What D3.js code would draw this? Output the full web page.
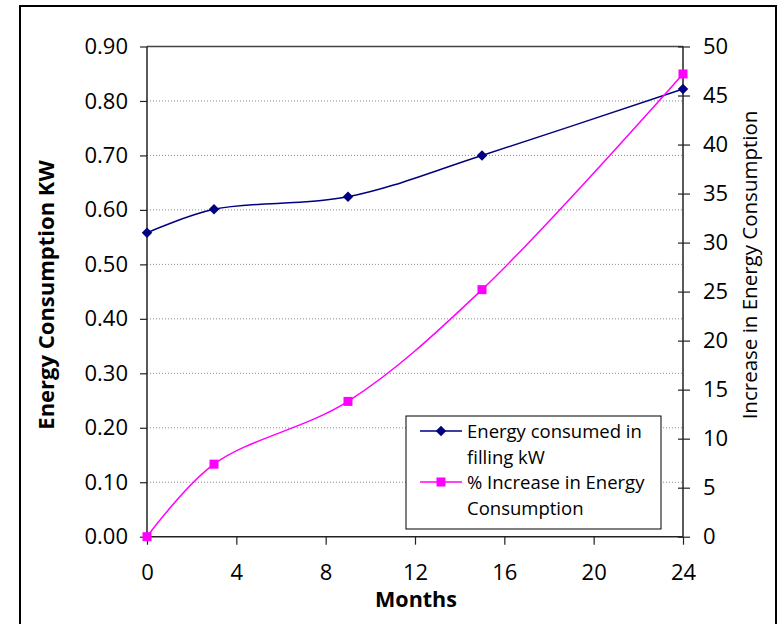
<!DOCTYPE html>
<html><head><meta charset="utf-8">
<script src="https://cdn.jsdelivr.net/npm/d3@7"></script>
<style>body{margin:0;background:#fff}svg{display:block}text{font-family:"Open Sans",sans-serif;fill:#000}</style>
</head><body><svg id="c" width="781" height="624"></svg>
<script>
const months = [0, 3, 9, 15, 24];
const energyKW = [0.558, 0.601, 0.624, 0.700, 0.822];
const pctIncrease = [0, 7.4, 13.8, 25.2, 47.2];
const xTicks = [0, 4, 8, 12, 16, 20, 24];
const leftTicks = [0, 0.1, 0.2, 0.3, 0.4, 0.5, 0.6, 0.7, 0.8, 0.9];
const rightTicks = [0, 5, 10, 15, 20, 25, 30, 35, 40, 45, 50];
const seriesNames = [["Energy consumed in", "filling kW"], ["% Increase in Energy", "Consumption"]];

const svg = d3.select("#c");
const L = 147, R = 683, T = 46.5, B = 536.7;
const x = d3.scaleLinear().domain([0, 24]).range([L, R]);
const yL = d3.scaleLinear().domain([0, 0.9]).range([B, T]);
const yR = d3.scaleLinear().domain([0, 50]).range([B, T]);

// frame
svg.append("rect").attr("x", 20).attr("y", 6).attr("width", 756).attr("height", 650)
  .attr("fill", "none").attr("stroke", "#000").attr("stroke-width", 2);

// gridlines
svg.append("g").selectAll("line").data(leftTicks.slice(1, -1)).join("line")
  .attr("x1", L).attr("x2", R).attr("y1", d => yL(d)).attr("y2", d => yL(d))
  .attr("stroke", "#8a8a8a").attr("stroke-width", 1).attr("stroke-dasharray", "1,2");
svg.append("line").attr("x1", L).attr("x2", R).attr("y1", T).attr("y2", T)
  .attr("stroke", "#444").attr("stroke-width", 1.5);

// axes
const fmt = d3.format(".2f");
const gL = svg.append("g").attr("transform", `translate(${L},0)`)
  .call(d3.axisLeft(yL).tickValues(leftTicks).tickFormat(fmt).tickSize(7).tickPadding(12));
const gR = svg.append("g").attr("transform", `translate(${R},0)`)
  .call(d3.axisRight(yR).tickValues(rightTicks).tickSize(7).tickPadding(13));
gR.selectAll(".tick line").attr("x1", -5);
const gX = svg.append("g").attr("transform", `translate(0,${B})`)
  .call(d3.axisBottom(x).tickValues(xTicks).tickSize(8).tickPadding(20));
[gL, gR, gX].forEach(g => {
  g.select(".domain").attr("stroke", "#222").attr("stroke-width", 1.5);
  g.selectAll(".tick line").attr("stroke", "#222").attr("stroke-width", 1.2);
  g.selectAll(".tick text").attr("font-family", "'Open Sans',sans-serif").attr("font-size", 22).attr("fill", "#000");
});
gL.select(".domain").attr("d", `M0,${B}V${T}`);
gR.select(".domain").attr("d", `M0,${B}V${T}`);
gX.select(".domain").attr("d", `M${L},0H${R}`);

// lines
const dE = months.map((m, i) => [m, energyKW[i]]);
const dP = months.map((m, i) => [m, pctIncrease[i]]);
const curve = d3.curveCatmullRom.alpha(0.5);
svg.append("path").datum(dE).attr("fill", "none").attr("stroke", "#000080").attr("stroke-width", 1.5)
  .attr("d", d3.line().curve(curve).x(d => x(d[0])).y(d => yL(d[1])));
svg.append("path").datum(dP).attr("fill", "none").attr("stroke", "#ff00ff").attr("stroke-width", 1.5)
  .attr("d", d3.line().curve(curve).x(d => x(d[0])).y(d => yR(d[1])));

const diamond = d3.symbol().type(d3.symbolDiamond2).size(70);
svg.append("g").selectAll("path").data(dE).join("path")
  .attr("transform", d => `translate(${x(d[0])},${yL(d[1])})`).attr("d", diamond).attr("fill", "#000080");
svg.append("g").selectAll("rect").data(dP).join("rect")
  .attr("x", d => x(d[0]) - 4.5).attr("y", d => yR(d[1]) - 4.5).attr("width", 9).attr("height", 9).attr("fill", "#ff00ff");

// axis titles
svg.append("text").attr("transform", "translate(54,295) rotate(-90)").attr("text-anchor", "middle")
  .attr("font-size", 22).attr("font-weight", "bold").text("Energy Consumption KW");
svg.append("text").attr("transform", "translate(757,265) rotate(-90)").attr("text-anchor", "middle")
  .attr("font-size", 20.5).text("Increase in Energy Consumption");
svg.append("text").attr("x", 416).attr("y", 607).attr("text-anchor", "middle")
  .attr("font-size", 21.5).attr("font-weight", "bold").text("Months");

// legend
const lg = svg.append("g");
lg.append("rect").attr("x", 406).attr("y", 416).attr("width", 255).attr("height", 113)
  .attr("fill", "#fff").attr("stroke", "#000").attr("stroke-width", 1);
const lys = [431, 482];
const cols = ["#000080", "#ff00ff"];
lys.forEach((ly, i) => {
  lg.append("line").attr("x1", 420).attr("x2", 462).attr("y1", ly).attr("y2", ly).attr("stroke", cols[i]).attr("stroke-width", 1.6);
  if (i === 0) lg.append("path").attr("transform", `translate(441,${ly})`).attr("d", diamond).attr("fill", cols[i]);
  else lg.append("rect").attr("x", 436.5).attr("y", ly - 4.5).attr("width", 9).attr("height", 9).attr("fill", cols[i]);
  seriesNames[i].forEach((t, j) => {
    lg.append("text").attr("x", 467).attr("y", ly + 6.5 + j * 26).attr("font-size", 18.5).text(t);
  });
});
</script></body></html>
